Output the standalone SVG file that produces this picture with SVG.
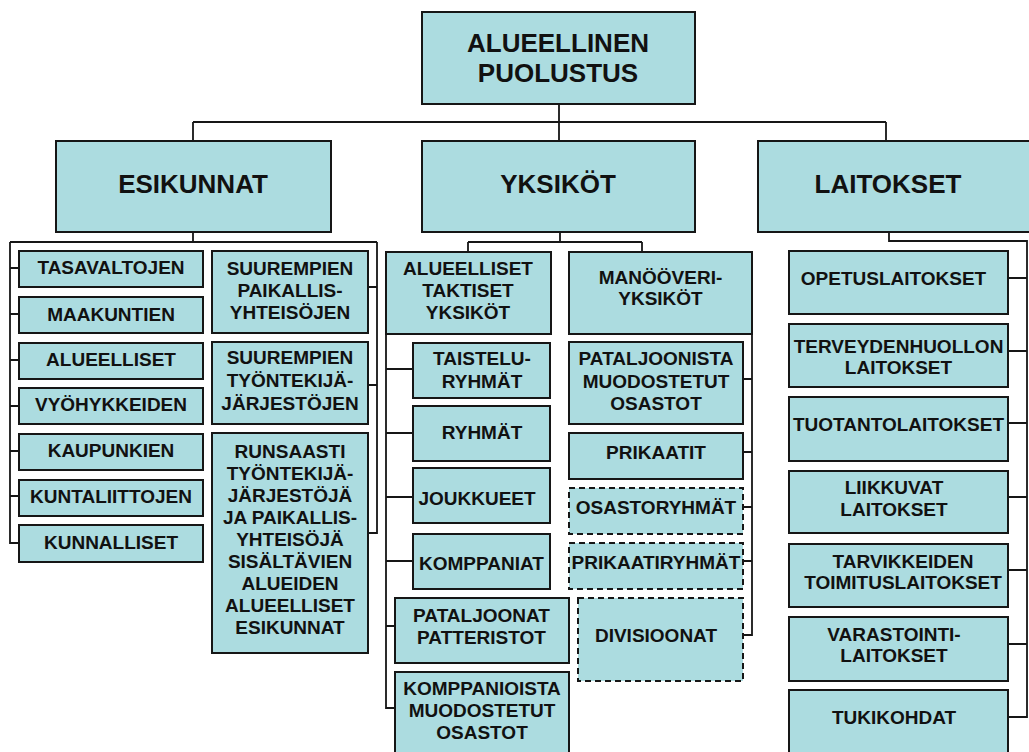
<svg xmlns="http://www.w3.org/2000/svg" width="1029" height="752" viewBox="0 0 1029 752">
<style>
.box{fill:#ACDCE0;stroke:#161616;stroke-width:2}
.dash{stroke-dasharray:6 4}
.t{font-family:"Liberation Sans",Arial,sans-serif;font-weight:bold;font-size:19px;text-anchor:middle;fill:#111}
.big{font-size:26px}
.c{fill:none;stroke:#161616;stroke-width:1.8}
</style>
<rect width="1029" height="752" fill="#fff"/>
<g id="connectors" class="c">
<path d="M559 104V122M193 122H886M193 122V141M559 122V141M886 122V141"/>
<path d="M193 232V242M10 242H377M10 242V543H19M10 268H19M10 314H19M10 360H19M10 406H19M10 451H19M10 496H19"/>
<path d="M377 242V533H368M368 287H377M368 385H377"/>
<path d="M560 232V242M468 242H642M468 242V252M642 242V252"/>
<path d="M386 334V708H395M386 369H413M386 433H413M386 497H413M386 561H413M386 626H395"/>
<path d="M752 334V635H743M743 379H752M743 452H752M743 507H752M743 561H752"/>
<path d="M889 232V241H1027V717H1008M1008 278H1027M1008 351H1027M1008 423H1027M1008 497H1027M1008 570H1027M1008 644H1027"/>
</g>
<g id="n-top"><rect class="box" x="422" y="12" width="273" height="92"/><text class="t big" x="558" y="51.5">ALUEELLINEN</text><text class="t big" x="558" y="81.5">PUOLUSTUS</text></g>
<g id="n-esikunnat"><rect class="box" x="56" y="141" width="275" height="91"/><text class="t big" x="193" y="192.5">ESIKUNNAT</text></g>
<g id="n-yksikot"><rect class="box" x="422" y="141" width="273" height="91"/><text class="t big" x="558" y="192.5">YKSIKÖT</text></g>
<g id="n-laitokset"><rect class="box" x="758" y="141" width="275" height="91"/><text class="t big" x="888" y="192.5">LAITOKSET</text></g>

<g id="n-tasavaltojen"><rect class="box" x="19" y="251" width="184" height="36"/><text class="t" x="111" y="274">TASAVALTOJEN</text></g>
<g id="n-maakuntien"><rect class="box" x="19" y="297" width="184" height="36"/><text class="t" x="111" y="320.5">MAAKUNTIEN</text></g>
<g id="n-alueelliset"><rect class="box" x="19" y="343" width="184" height="36"/><text class="t" x="111" y="366">ALUEELLISET</text></g>
<g id="n-vyohykkeiden"><rect class="box" x="19" y="388" width="184" height="36"/><text class="t" x="111" y="411">VYÖHYKKEIDEN</text></g>
<g id="n-kaupunkien"><rect class="box" x="19" y="434" width="184" height="36"/><text class="t" x="111" y="457.3">KAUPUNKIEN</text></g>
<g id="n-kuntaliittojen"><rect class="box" x="19" y="480" width="184" height="36"/><text class="t" x="111" y="503.3">KUNTALIITTOJEN</text></g>
<g id="n-kunnalliset"><rect class="box" x="19" y="525" width="184" height="37"/><text class="t" x="111" y="549.3">KUNNALLISET</text></g>

<g id="n-suur-paik"><rect class="box" x="212" y="251" width="156" height="82"/><text class="t" x="290" y="275">SUUREMPIEN</text><text class="t" x="290" y="297">PAIKALLIS-</text><text class="t" x="290" y="319.3">YHTEISÖJEN</text></g>
<g id="n-suur-tyon"><rect class="box" x="212" y="342" width="156" height="82"/><text class="t" x="290" y="364.3">SUUREMPIEN</text><text class="t" x="290" y="387">TYÖNTEKIJÄ-</text><text class="t" x="290" y="410">JÄRJESTÖJEN</text></g>
<g id="n-runsaasti"><rect class="box" x="212" y="433" width="156" height="220"/>
<text class="t" x="290" y="457.5">RUNSAASTI</text><text class="t" x="290" y="479.6">TYÖNTEKIJÄ-</text><text class="t" x="290" y="501.7">JÄRJESTÖJÄ</text><text class="t" x="290" y="523.8">JA PAIKALLIS-</text><text class="t" x="290" y="545.9">YHTEISÖJÄ</text><text class="t" x="290" y="568">SISÄLTÄVIEN</text><text class="t" x="290" y="590.1">ALUEIDEN</text><text class="t" x="290" y="612.2">ALUEELLISET</text><text class="t" x="290" y="634.3">ESIKUNNAT</text></g>

<g id="n-alue-takt"><rect class="box" x="386" y="252" width="165" height="82"/><text class="t" x="468" y="275.1">ALUEELLISET</text><text class="t" x="468" y="296.8">TAKTISET</text><text class="t" x="468" y="318.5">YKSIKÖT</text></g>
<g id="n-manooveri"><rect class="box" x="569" y="252" width="183" height="82"/><text class="t" x="660.5" y="283.5">MANÖÖVERI-</text><text class="t" x="660.5" y="305.1">YKSIKÖT</text></g>
<g id="n-taistelu"><rect class="box" x="413" y="343" width="137" height="55"/><text class="t" x="482" y="365.1">TAISTELU-</text><text class="t" x="482" y="387.5">RYHMÄT</text></g>
<g id="n-ryhmat"><rect class="box" x="413" y="406" width="137" height="55"/><text class="t" x="482" y="439.1">RYHMÄT</text></g>
<g id="n-joukkueet"><rect class="box" x="413" y="468" width="137" height="55"/><text class="t" x="477" y="505.1">JOUKKUEET</text></g>
<g id="n-komppaniat"><rect class="box" x="413" y="534" width="137" height="55"/><text class="t" x="481.5" y="570.1">KOMPPANIAT</text></g>
<g id="n-pataljoonat"><rect class="box" x="395" y="598" width="174" height="65"/><text class="t" x="481.5" y="621.8">PATALJOONAT</text><text class="t" x="481.5" y="644.1">PATTERISTOT</text></g>
<g id="n-komppanioista"><rect class="box" x="395" y="672" width="174" height="90"/><text class="t" x="482" y="695.1">KOMPPANIOISTA</text><text class="t" x="482" y="716.8">MUODOSTETUT</text><text class="t" x="482" y="739.1">OSASTOT</text></g>
<g id="n-pataljoonista"><rect class="box" x="569" y="342" width="174" height="82"/><text class="t" x="656" y="365.1">PATALJOONISTA</text><text class="t" x="656" y="387.5">MUODOSTETUT</text><text class="t" x="656" y="409.5">OSASTOT</text></g>
<g id="n-prikaatit"><rect class="box" x="569" y="433" width="174" height="46"/><text class="t" x="656" y="458.5">PRIKAATIT</text></g>
<g id="n-osastoryhmat"><rect class="box dash" x="569" y="488" width="174" height="46"/><text class="t" x="656" y="513.5">OSASTORYHMÄT</text></g>
<g id="n-prikaatiryhmat"><rect class="box dash" x="569" y="543" width="174" height="46"/><text class="t" x="656" y="568.5">PRIKAATIRYHMÄT</text></g>
<g id="n-divisioonat"><rect class="box dash" x="578" y="598" width="165" height="83"/><text class="t" x="656" y="641.8">DIVISIOONAT</text></g>

<g id="n-opetus"><rect class="box" x="789" y="251" width="219" height="63"/><text class="t" x="893.5" y="285.1">OPETUSLAITOKSET</text></g>
<g id="n-terveys"><rect class="box" x="789" y="324" width="219" height="63"/><text class="t" x="898.5" y="352.8">TERVEYDENHUOLLON</text><text class="t" x="898.5" y="374.1">LAITOKSET</text></g>
<g id="n-tuotanto"><rect class="box" x="789" y="397" width="219" height="64"/><text class="t" x="898.5" y="430.8">TUOTANTOLAITOKSET</text></g>
<g id="n-liikkuvat"><rect class="box" x="789" y="471" width="219" height="62"/><text class="t" x="894" y="494.1">LIIKKUVAT</text><text class="t" x="894" y="516.1">LAITOKSET</text></g>
<g id="n-tarvikkeiden"><rect class="box" x="789" y="544" width="219" height="63"/><text class="t" x="903" y="567.5">TARVIKKEIDEN</text><text class="t" x="903" y="588.5">TOIMITUSLAITOKSET</text></g>
<g id="n-varastointi"><rect class="box" x="789" y="617" width="219" height="64"/><text class="t" x="894" y="640.8">VARASTOINTI-</text><text class="t" x="894" y="661.8">LAITOKSET</text></g>
<g id="n-tukikohdat"><rect class="box" x="789" y="690" width="219" height="72"/><text class="t" x="894" y="724.1">TUKIKOHDAT</text></g>
</svg>
